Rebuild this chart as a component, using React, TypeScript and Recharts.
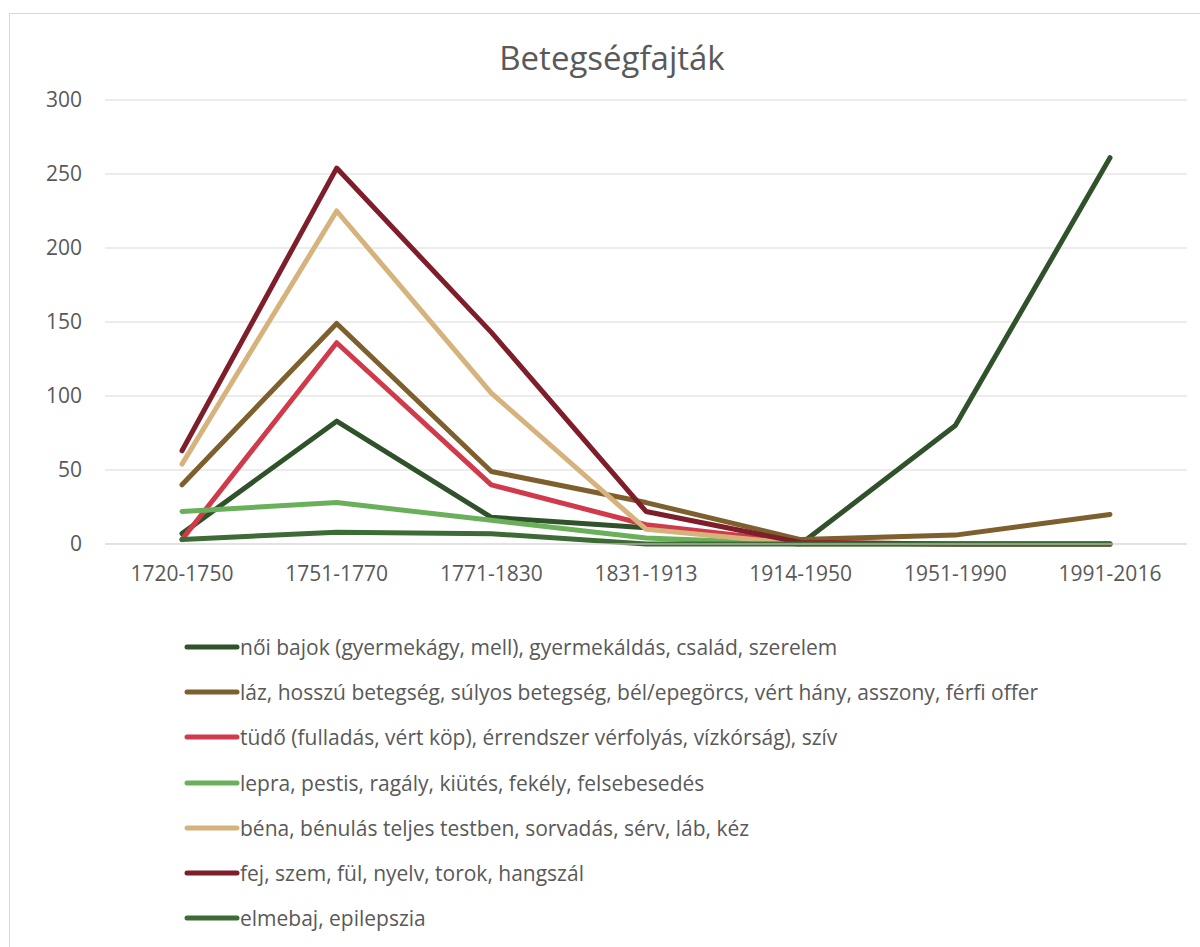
import { LineChart, Line, XAxis, YAxis, CartesianGrid } from 'recharts';

const periods = ['1720-1750', '1751-1770', '1771-1830', '1831-1913', '1914-1950', '1951-1990', '1991-2016'];

const noiBajok = [7, 83, 18, 11, 0, 80, 261];
const laz = [40, 149, 49, 28, 3, 6, 20];
const tudo = [3, 136, 40, 13, 1, 0, 0];
const lepra = [22, 28, 16, 4, 0, 0, 0];
const bena = [54, 225, 102, 10, 0, 0, 0];
const fej = [63, 254, 143, 22, 1, 0, 0];
const elmebaj = [3, 8, 7, 0, 0, 0, 0];

const yTicks = [0, 50, 100, 150, 200, 250, 300];

const series = [
  { key: 'noi', name: 'női bajok (gyermekágy, mell), gyermekáldás, család, szerelem', values: noiBajok, color: '#30522a' },
  { key: 'laz', name: 'láz, hosszú betegség, súlyos betegség, bél/epegörcs, vért hány, asszony, férfi offer', values: laz, color: '#7e5f2e' },
  { key: 'tudo', name: 'tüdő (fulladás, vért köp), érrendszer vérfolyás, vízkórság), szív', values: tudo, color: '#d13a4a' },
  { key: 'lepra', name: 'lepra, pestis, ragály, kiütés, fekély, felsebesedés', values: lepra, color: '#6ab05b' },
  { key: 'bena', name: 'béna, bénulás teljes testben, sorvadás, sérv, láb, kéz', values: bena, color: '#d6b27c' },
  { key: 'fej', name: 'fej, szem, fül, nyelv, torok, hangszál', values: fej, color: '#7e1e2a' },
  { key: 'elmebaj', name: 'elmebaj, epilepszia', values: elmebaj, color: '#3d6b35' },
];

const data = periods.map((p, i) => {
  const row: Record<string, string | number> = { period: p };
  series.forEach((s) => {
    row[s.key] = s.values[i];
  });
  return row;
});

const font = '"Open Sans", sans-serif';

export default function App() {
  return (
    <div
      style={{
        position: 'absolute',
        left: 9,
        top: 13,
        width: 1200,
        height: 950,
        border: '1px solid #d9d9d9',
        boxSizing: 'border-box',
        background: '#fff',
      }}
    >
      <div
        style={{
          position: 'absolute',
          left: 0,
          width: 1204,
          top: 21,
          textAlign: 'center',
          fontFamily: font,
          fontSize: 33,
          color: '#595959',
        }}
      >
        Betegségfajták
      </div>
      <LineChart width={1190} height={600} data={data} margin={{ top: 86, right: 13, left: 0, bottom: 0 }}>
        <CartesianGrid vertical={false} stroke="#d9d9d9" />
        <XAxis
          dataKey="period"
          axisLine={{ stroke: '#d9d9d9' }}
          tickLine={false}
          tickSize={0}
          tickMargin={22}
          padding={{ left: 77, right: 77 }}
          height={70}
          tick={{ fontSize: 21, fill: '#595959', fontFamily: font }}
          interval={0}
        />
        <YAxis
          width={95}
          domain={[0, 300]}
          ticks={yTicks}
          axisLine={false}
          tickLine={false}
          tickSize={0}
          tickMargin={23}
          tick={{ fontSize: 21, fill: '#595959', fontFamily: font }}
        />
        {series.map((s) => (
          <Line
            key={s.key}
            dataKey={s.key}
            name={s.name}
            stroke={s.color}
            strokeWidth={5}
            strokeLinecap="round"
            strokeLinejoin="round"
            dot={false}
            activeDot={false}
            isAnimationActive={false}
          />
        ))}
      </LineChart>
      <div style={{ position: 'absolute', left: 174, top: 610, fontFamily: font }}>
        {series.map((s) => (
          <div key={s.key} style={{ display: 'flex', alignItems: 'center', height: 45.3 }}>
            <svg width={58} height={10}>
              <line x1={3} y1={5} x2={53} y2={5} stroke={s.color} strokeWidth={5} strokeLinecap="round" />
            </svg>
            <span style={{ fontSize: 21, color: '#595959', whiteSpace: 'nowrap', marginLeft: -2 }}>{s.name}</span>
          </div>
        ))}
      </div>
    </div>
  );
}
